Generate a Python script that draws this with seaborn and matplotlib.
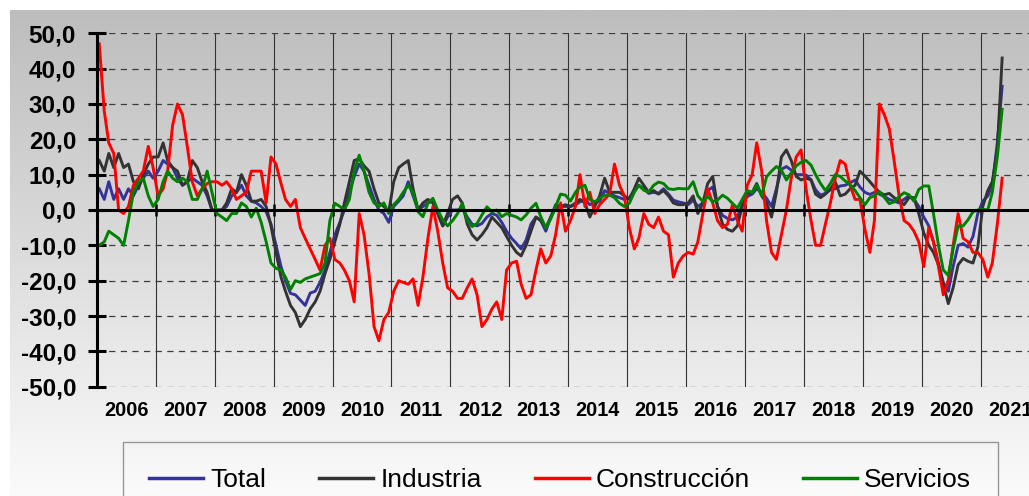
import matplotlib
matplotlib.use('Agg')
import matplotlib.pyplot as plt
import matplotlib.dates as mdates
from matplotlib.colors import LinearSegmentedColormap
from matplotlib.lines import Line2D
from matplotlib.ticker import FixedLocator, FuncFormatter
import numpy as np
import pandas as pd
import seaborn as sns

# Indicador mensual por sectores, ene-2006 a may-2021 (una fila por año)
total = [
    6, 3, 8, 3, 6, 3, 6, 4, 7, 9, 11, 9,
    11, 14, 13, 12, 9, 7, 8, 9, 8, 7, 4, 0,
    0, 0, 1, 4, 5, 7, 4, 2.5, 2, 1, -0.5, -4,
    -10, -16, -20, -23.6, -24, -25.5, -27, -23.5, -23, -20.5, -17, -12,
    -7, -3.5, 0, 5, 9.5, 13, 11, 7, 3, 0, -1, -3.5,
    1, 2.5, 4, 8, 4, 0, 1, 2, 2.5, -1, -4.5, -2,
    0, 0, 0.5, -2, -4, -4.5, -3.8, -2, -1, -1.5, -3.5, -6,
    -8, -9.5, -11, -8.5, -4, -2, -3, -6, -2, 0.5, 1, 1,
    1, 1.5, 2.3, 3, 1.5, 2, 2.5, 5.5, 4.7, 4, 3.5, 3,
    3.5, 5.5, 7, 6, 4.7, 5, 4.7, 6, 4.5, 2.8, 2.3, 2,
    1.5, 2.8, 1, 2, 5.5, 6.5, 1, -1.5, -2.4, -2.8, -2, 1.5,
    3.8, 4.5, 6, 5, 3.3, 1, 6, 11.5, 12.3, 11.3, 10, 10,
    9.9, 8.5, 5.7, 4.2, 4.7, 5.7, 6, 6.8, 7, 7.7, 8.5, 6.5,
    5, 4.4, 5, 4.5, 3.8, 3, 2.5, 2, 3, 4, 3, 1,
    -2, -4.5, -9, -15, -20.5, -23, -16, -10, -9.5, -10.5, -7.5, -1,
    2.5, 4, 7, 19, 35,
]
industria = [
    14, 11, 16, 12, 16, 12, 13, 8, 6, 10, 13, 15,
    15, 19, 14, 12, 11, 7, 8, 14, 12, 8, 5, 0,
    0, 0, 2, 6, 5, 10, 7, 2.5, 2.5, 3, 1, -4.5,
    -12, -19, -23, -27, -29, -33, -31, -28, -26, -23, -18, -14,
    -9, -4, 2, 8, 14, 14.5, 12.5, 11, 6, 2, 1, -0.5,
    8, 12, 13, 14, 6, 0, 2, 3, 2, -1, -4.5, -1,
    3, 4, 2, -4, -7, -8.5, -7, -5, -2, -3.5, -5, -7.5,
    -10, -12, -13, -10, -6, -2, -3, -5, -2, 1.5, 1, 1.5,
    1, 2, 3, 2, -2, 1, 4, 9, 5, 5, 5, 4,
    3, 6, 9, 7, 5, 5.5, 4.5, 5.5, 4, 2, 1.5, 1.5,
    2, 4, -1, 2, 7.5, 9.5, 1, -4, -5.5, -6, -4.5, 1,
    4.7, 5, 7.5, 4, 2, -2, 5, 15, 17, 14, 9.5, 8.5,
    9, 8.5, 4.5, 3.5, 4.5, 6, 8, 4, 4.5, 6, 7, 11,
    9.6, 8, 6.5, 5, 4.3, 4.7, 3.5, 2.5, 1.5, 3.5, 3.5, -1,
    -6.5, -10, -12, -15.5, -21, -26.5, -22, -15.5, -13.7, -14.5, -15, -10.5,
    1, 5.5, 8, 17, 43,
]
construccion = [
    47, 28, 19, 16, 0, -1, 1, 7, 9, 11, 18, 12,
    4, 6, 11, 24, 30, 27, 18, 8, 4, 6, 7.5, 8,
    8, 7, 8, 6, 3, 4, 5, 11, 11, 11, 2, 15,
    13, 7.5, 3, 1, 3, -5, -8, -11, -14, -17, -10, -8,
    -14, -15, -17, -20, -26, -1, -7, -18, -33, -37, -31, -29,
    -23, -20, -20.5, -21, -19.5, -27, -19, -8, 1, -6, -15, -22,
    -23, -25, -25, -22, -19.5, -24, -33, -31, -28, -26, -31, -17,
    -15, -14.5, -21, -25, -24, -17, -11, -15, -13, -7, 2, -6,
    -3, 1, 10, 1, 5, -1, 1.5, 3, 4.5, 13, 7, 4,
    -5, -11, -8, -1, -4, -5, -2, -6, -7, -19, -15, -13,
    -12, -12.5, -9, -1, 6, 2, -3, -5, -4, 1.4, -3, -6,
    7, 10, 19, 11, -3, -12, -14, -7, 0, 9, 15, 17,
    6, -3, -10, -10, -4, 2, 9, 14, 13, 7, 3, 3,
    -5.5, -12, -3, 30, 27, 23, 14, 4, -3, -4, -6, -9,
    -16, -5, -9, -16, -24, -20, -10, -1, -8, -9, -12, -12,
    -14, -19, -15, -4, 9,
]
servicios = [
    -10, -9, -6, -7, -8, -10, -3, 5, 8, 9, 4, 1,
    3, 8, 11, 9, 8, 9, 8, 3, 3, 6, 11, 5,
    -1, -2, -3, -1, -1, 2, 1, -2, 0.5, -3.5, -9, -15,
    -16.5, -17, -19, -22.5, -20, -20.5, -19.5, -19, -18.5, -18, -15, -3,
    1.9, 1, 0, 3, 11, 15.5, 11, 5, 2, 1, 2, -1,
    1.5, 3, 5, 7, 5, -0.5, -1.9, 1.9, 3.3, 0, -2.8, -4.5,
    -3, -1, 1.9, -2.8, -4.7, -3.8, -1.4, 0.9, -0.5, 0, -1.9, -1,
    -1.5, -2, -2.8, -1.4, 0.5, 1.9, -1.9, -5, -2.5, 1, 4.5, 4.2,
    2.5, 5, 6.5, 7, 3, 2.3, 3.3, 4.2, 4.2, 3.5, 1.9, 1,
    1.9, 5, 7, 5.6, 5.1, 7, 7.9, 7.5, 6, 5.8, 6.1, 6,
    6, 8, 4, 2.4, 3.8, 2.4, 2.8, 4.2, 3.3, 1.9, 0.5, 3,
    5.5, 5, 7, 4, 9.4, 11, 12.3, 11.3, 8.5, 10.5, 12.5, 13.5,
    14, 12.7, 10, 7.5, 5.5, 7.5, 10, 9.5, 8.2, 7.2, 5.5, 3.5,
    1.5, 3.5, 4, 5.2, 3.6, 1.8, 2.3, 3.8, 4.9, 4.3, 2.5, 5.8,
    6.8, 6.8, -1, -10, -17, -18.5, -11, -4.5, -4.5, -2.8, -0.5, 0,
    0.2, 0, 5, 15, 28.5,
]

series_names = ['Total', 'Industria', 'Construcción', 'Servicios']
series_colors = ['#333399', '#333333', '#ff0000', '#008000']
y_ticks = [-50, -40, -30, -20, -10, 0, 10, 20, 30, 40, 50]

assert len(total) == len(industria) == len(construccion) == len(servicios)

# puntos centrados en cada mes, como en el eje de categorias original
fechas = pd.date_range('2006-01-01', periods=len(total), freq='MS') + pd.Timedelta(days=14)
df = pd.DataFrame({'fecha': fechas, 'Total': total, 'Industria': industria,
                   'Construcción': construccion, 'Servicios': servicios})
df = df.melt(id_vars='fecha', var_name='serie', value_name='valor')

plt.rcParams['font.family'] = ['Liberation Sans', 'DejaVu Sans']
plt.rcParams['font.weight'] = 'bold'
plt.rcParams['axes.unicode_minus'] = False

W, H = 1029, 496
fig = plt.figure(figsize=(W / 100, H / 100), dpi=100)

# fondo degradado gris
bg = fig.add_axes([10 / W, 0, 1 - 10 / W, 1 - 10 / H], zorder=0)
grad = np.linspace(0, 1, 256).reshape(-1, 1)
bg_cmap = LinearSegmentedColormap.from_list('bg', ['#bdbdbd', '#fbfbfb'])
bg.imshow(grad, aspect='auto', cmap=bg_cmap, extent=[0, 1, 0, 1], origin='upper')
bg.axis('off')

ax = fig.add_axes([97 / W, (H - 386.7) / H, (1039.4 - 97) / W, 353.4 / H], zorder=1)
ax.patch.set_alpha(0)

sns.lineplot(data=df, x='fecha', y='valor', hue='serie', hue_order=series_names,
             palette=dict(zip(series_names, series_colors)), linewidth=2.1,
             legend=False, ax=ax)

ax.set_xlim(pd.Timestamp('2006-01-01'), pd.Timestamp('2022-01-01'))
ax.set_ylim(-50, 50)
ax.set_xlabel('')
ax.set_ylabel('')

# eje y
ax.yaxis.set_major_locator(FixedLocator(y_ticks))
ax.yaxis.set_major_formatter(FuncFormatter(lambda v, p: f'{v:.1f}'.replace('.', ',')))
ax.tick_params(axis='y', direction='inout', length=13, width=2.2, pad=8.6,
               labelsize=17.5, color='black', labelcolor='black')
ax.yaxis.grid(True, linestyle=(0, (5, 4.3)), color='#3c3c3c', linewidth=0.9)

# eje x: linea del cero con marcas en cada año, etiquetas abajo centradas
ax.xaxis.set_major_locator(mdates.YearLocator())
ax.xaxis.set_minor_locator(mdates.MonthLocator(bymonth=7, bymonthday=3))
ax.xaxis.set_minor_formatter(mdates.DateFormatter('%Y'))
ax.xaxis.set_major_formatter(mdates.DateFormatter(''))
ax.tick_params(axis='x', which='major', top=True, bottom=False, labeltop=False,
               labelbottom=False, direction='inout', length=8, width=1.8, color='black')
ax.tick_params(axis='x', which='minor', top=False, bottom=True, labeltop=False,
               labelbottom=True, length=0, pad=10.5, labelsize=14.3, labelcolor='black')
ax.xaxis.grid(True, which='major', linestyle='-', color='#333333', linewidth=0.8)

ax.spines['top'].set_position(('data', 0))
ax.spines['top'].set_linewidth(2.2)
ax.spines['top'].set_color('black')
ax.spines['left'].set_linewidth(2.2)
ax.spines['left'].set_color('black')
ax.spines['right'].set_visible(False)
ax.spines['bottom'].set_visible(False)
ax.set_axisbelow(True)

handles = [Line2D([], [], color=c, linewidth=2.5) for c in series_colors]
fig.legend(handles, series_names, loc='upper left', bbox_to_anchor=(123 / W, 1 - 442 / H),
           ncol=4, frameon=True, fancybox=False, edgecolor='#7f7f7f', facecolor='none',
           prop={'size': 19, 'weight': 'normal'}, handlelength=2.05, handletextpad=0.27,
           columnspacing=2.0, borderpad=1.0, borderaxespad=0)

fig.savefig('out.png', dpi=100)
